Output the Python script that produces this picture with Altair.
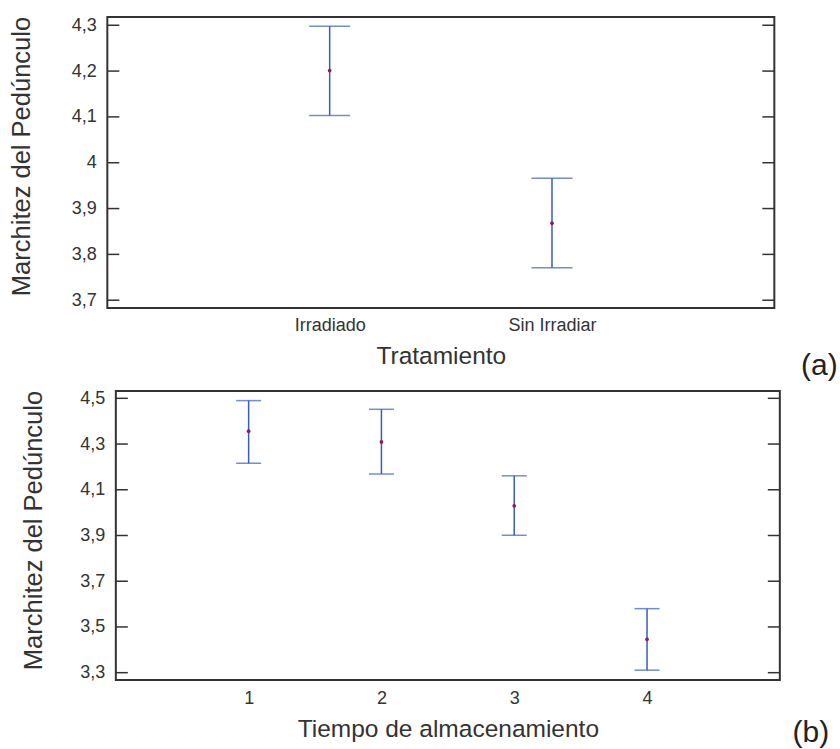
import altair as alt
import pandas as pd

# Panel (a): tratamiento
tratamientos = ["Irradiado", "Sin Irradiar"]
trat_media = [4.201, 3.868]
trat_inf = [4.103, 3.771]
trat_sup = [4.298, 3.966]
trat_ticks = [3.7, 3.8, 3.9, 4.0, 4.1, 4.2, 4.3]

# Panel (b): tiempo de almacenamiento
tiempos = ["1", "2", "3", "4"]
tiempo_media = [4.356, 4.309, 4.030, 3.446]
tiempo_inf = [4.216, 4.169, 3.901, 3.311]
tiempo_sup = [4.490, 4.452, 4.161, 3.580]
tiempo_ticks = [3.3, 3.5, 3.7, 3.9, 4.1, 4.3, 4.5]

AZUL = "#3a5bbf"
PUNTO = "#8b1f55"
EJE = "#333333"
FUENTE = "Liberation Sans"
ETIQUETA = "replace(format(datum.value, '.1~f'), '.', ',')"


def panel(cats, media, inf, sup, ticks, dominio, padding, ancho, alto,
          cap, x_titulo, letra, letra_dx, letra_dy, lab_pad_x, tit_pad_y):
    df = pd.DataFrame({"cat": cats, "media": media, "inf": inf, "sup": sup})
    base = alt.Chart(df)
    x = alt.X(
        "cat:N",
        sort=cats,
        scale=alt.Scale(type="point", padding=padding),
        axis=alt.Axis(
            title=x_titulo, labelAngle=0, ticks=False, domain=False,
            labelPadding=lab_pad_x, titlePadding=10,
            labelFontSize=18, titleFontSize=24.5,
        ),
    )
    y_scale = alt.Scale(domain=dominio, nice=False, zero=False)
    y = alt.Y(
        "inf:Q",
        scale=y_scale,
        axis=alt.Axis(
            title="Marchitez del Pedúnculo", values=ticks, labelExpr=ETIQUETA,
            ticks=False, domain=False, labelPadding=11, titlePadding=tit_pad_y,
            titleY=139, labelFontSize=18, titleFontSize=25.5, grid=False,
        ),
    )
    linea = base.mark_rule(color=AZUL, strokeWidth=1.5).encode(
        x=x, y=y, y2="sup:Q"
    )
    tapa_inf = base.mark_tick(color=AZUL, size=cap, thickness=1.5).encode(
        x="cat:N", y="inf:Q"
    )
    tapa_sup = base.mark_tick(color=AZUL, size=cap, thickness=1.5).encode(
        x="cat:N", y="sup:Q"
    )
    punto = base.mark_circle(color=PUNTO, size=14, opacity=1).encode(
        x="cat:N", y="media:Q"
    )
    # inward tick marks on both vertical sides of the frame
    dt = pd.DataFrame({"v": ticks})
    marca_izq = alt.Chart(dt).mark_rule(color=EJE, strokeWidth=1.5).encode(
        x=alt.value(0), x2=alt.value(12), y="v:Q"
    )
    marca_der = alt.Chart(dt).mark_rule(color=EJE, strokeWidth=1.5).encode(
        x=alt.value(ancho - 12), x2=alt.value(ancho), y="v:Q"
    )
    rotulo = alt.Chart(pd.DataFrame({"t": [letra]})).mark_text(
        fontSize=30, font=FUENTE, color="#222222", align="center", baseline="middle"
    ).encode(
        text="t:N", x=alt.value(ancho + letra_dx), y=alt.value(alto + letra_dy)
    )
    return alt.layer(
        marca_izq, marca_der, linea, tapa_inf, tapa_sup, punto, rotulo
    ).properties(width=ancho, height=alto)


arriba = panel(tratamientos, trat_media, trat_inf, trat_sup, trat_ticks,
               [3.683, 4.318], 1.08, 667, 291, 41, "Tratamiento", "(a)",
               45, 58, 8, 37)
abajo = panel(tiempos, tiempo_media, tiempo_inf, tiempo_sup, tiempo_ticks,
              [3.268, 4.532], 1.156, 664, 289, 25, "Tiempo de almacenamiento",
              "(b)", 31, 53, 9, 33)

chart = alt.vconcat(arriba, abajo, spacing=6, center=True).properties(
    padding={"left": 8, "top": 15, "right": 0, "bottom": 0},
    background="white",
).configure_view(
    stroke=EJE, strokeWidth=2
).configure_axis(
    labelFont=FUENTE, titleFont=FUENTE, labelColor="#333333",
    titleColor="#333333", titleFontWeight="normal", grid=False
)

chart.save("out.html", embed_options={"renderer": "svg", "actions": False})
